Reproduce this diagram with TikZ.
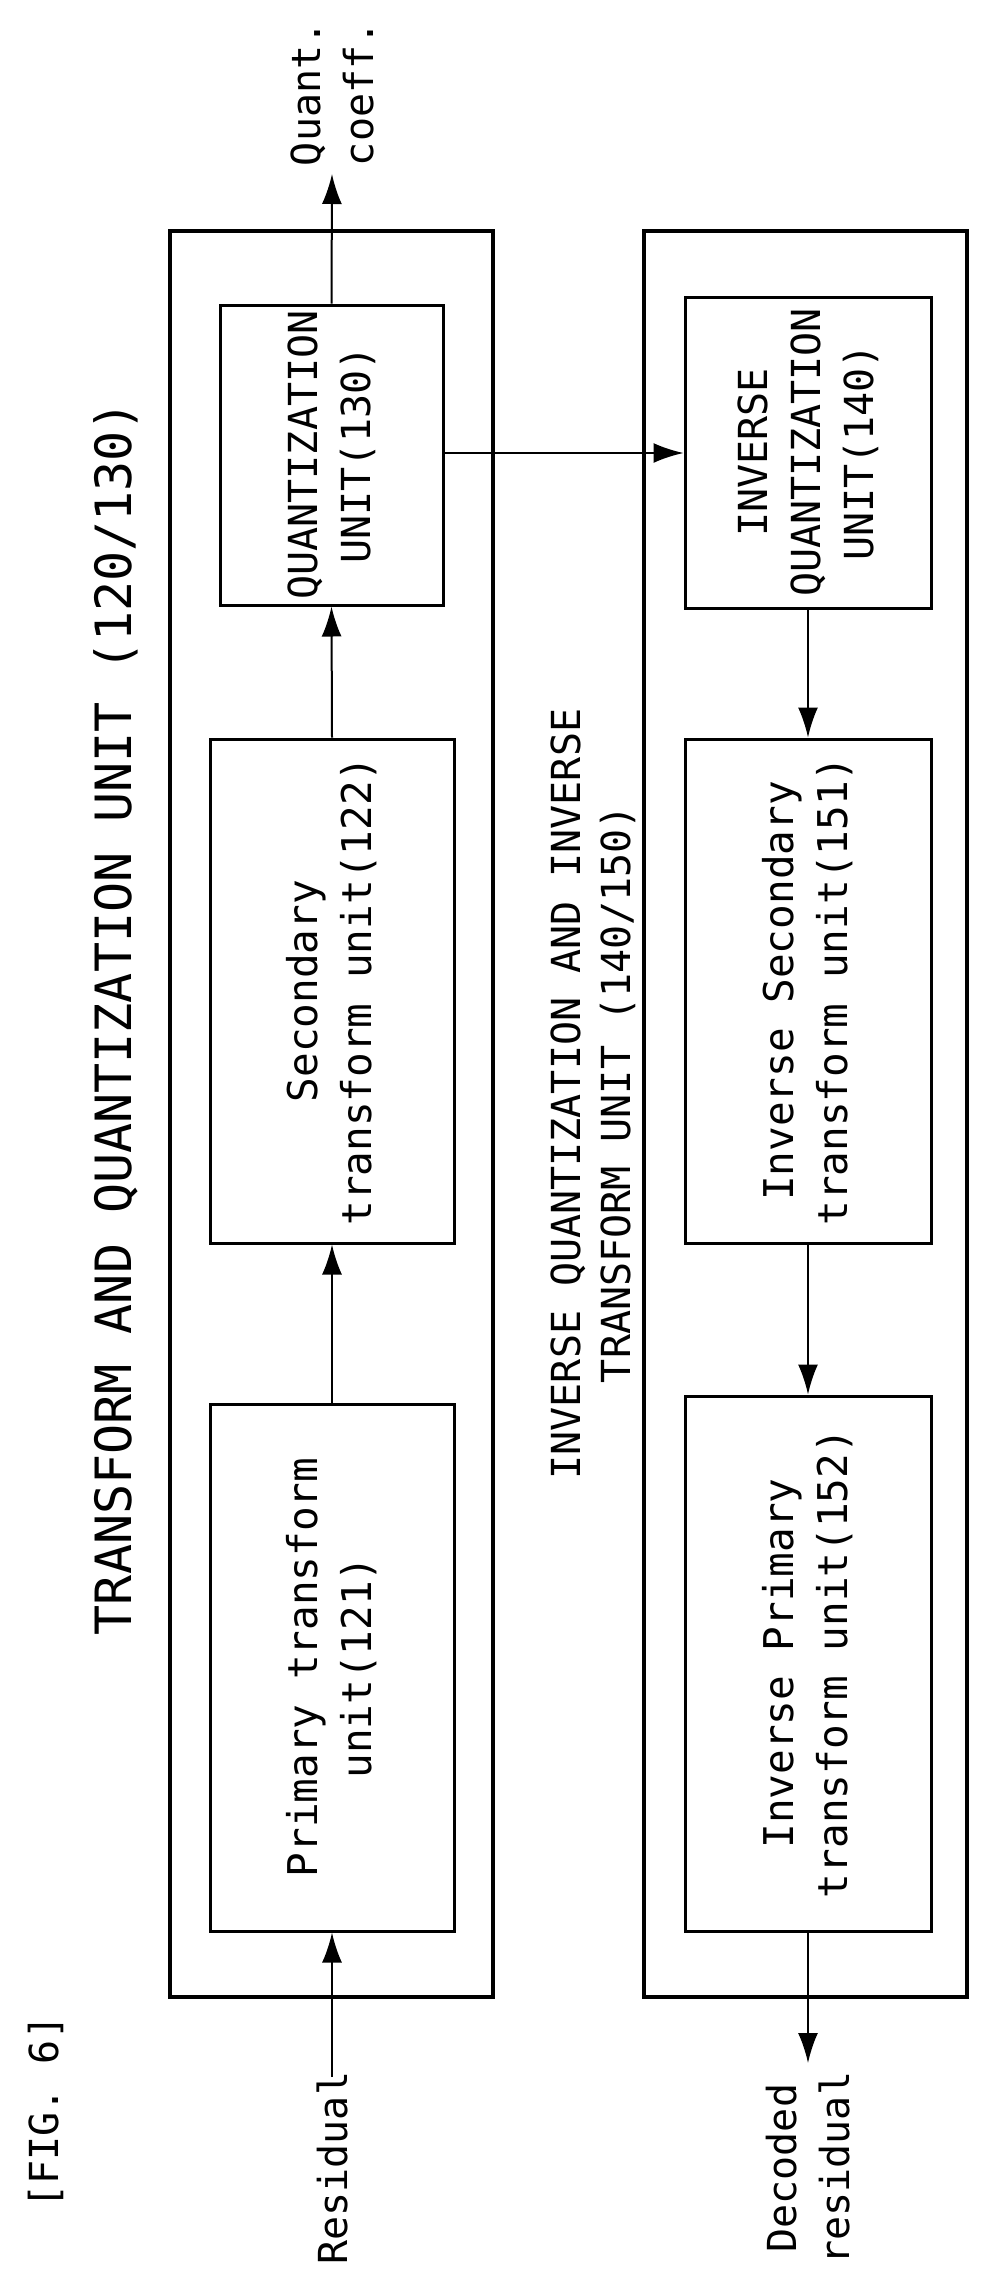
\documentclass[tikz,border=0pt]{standalone}
\usepackage{fontspec}
\setmonofont{DejaVu Sans Mono}
\usetikzlibrary{arrows.meta}
\begin{document}
\begin{tikzpicture}[x=1pt,y=-1pt,
  outer/.style={draw,line width=4pt},
  unit/.style={draw,line width=3pt,inner sep=0pt,align=center},
  txt/.style={rotate=90,font=\ttfamily\fontsize{40}{53}\selectfont,align=center},
  conn/.style={line width=2pt,-{Latex[length=30pt,width=20pt]}}]
\useasboundingbox (0,0) rectangle (989,2275);
% outer boxes
\draw[outer] (170,231) rectangle (493,1997);
\draw[outer] (644,231) rectangle (967,1997);
% units
\node[unit,minimum width=223pt,minimum height=300pt] (q) at (331.5,455) {};
\node[txt] at (q) {QUANTIZATION\\UNIT(130)};
\node[unit,minimum width=244pt,minimum height=504pt] (s) at (332,991) {};
\node[txt,font=\ttfamily\fontsize{41}{54}\selectfont] at (s) {Secondary\\transform unit(122)};
\node[unit,minimum width=244pt,minimum height=527pt] (p) at (332,1667.5) {};
\node[txt,font=\ttfamily\fontsize{41}{54}\selectfont] at (p) {Primary transform\\unit(121)};
\node[unit,minimum width=246pt,minimum height=311pt] (iq) at (808,452.5) {};
\node[txt] at (iq) {INVERSE\\QUANTIZATION\\UNIT(140)};
\node[unit,minimum width=246pt,minimum height=504pt] (is) at (808,991) {};
\node[txt,font=\ttfamily\fontsize{41}{54}\selectfont] at (is) {Inverse Secondary\\transform unit(151)};
\node[unit,minimum width=246pt,minimum height=535pt] (ip) at (808,1663.5) {};
\node[txt,font=\ttfamily\fontsize{41}{54}\selectfont] at (ip) {Inverse Primary\\transform unit(152)};
% labels
\node[txt,font=\ttfamily\fontsize{50}{52}\selectfont] (l1) at (116,1018) {TRANSFORM AND QUANTIZATION UNIT (120/130)};
\node[txt,font=\ttfamily\fontsize{40}{50}\selectfont] (l2) at (593,1094) {INVERSE QUANTIZATION AND INVERSE\\TRANSFORM UNIT (140/150)};
\node[txt,anchor=west] (fig) at (46,2212) {[FIG. 6]};
\node[txt,anchor=west] (res) at (332,2268) {Residual};
\node[txt,anchor=west] (dec) at (808,2268) {Decoded\\residual};
\node[txt,anchor=east] (qc) at (332,18) {Quant.\\coeff.};
\coordinate (qtop) at (332,174);
\coordinate (dend) at (808,2063);
\coordinate (rstart) at (332,2077);
% connectors
\draw[conn] (rstart) -- (p.south);
\draw[conn] (p.north) -- (s.south);
\draw[conn] (s.north) -- (q.south);
\draw[conn] (q.north) -- (qtop);
\draw[conn] (q.east |- 0,453) -- (iq.west |- 0,453);
\draw[conn] (iq.south) -- (is.north);
\draw[conn] (is.south) -- (ip.north);
\draw[conn] (ip.south) -- (dend);
\end{tikzpicture}
\end{document}
